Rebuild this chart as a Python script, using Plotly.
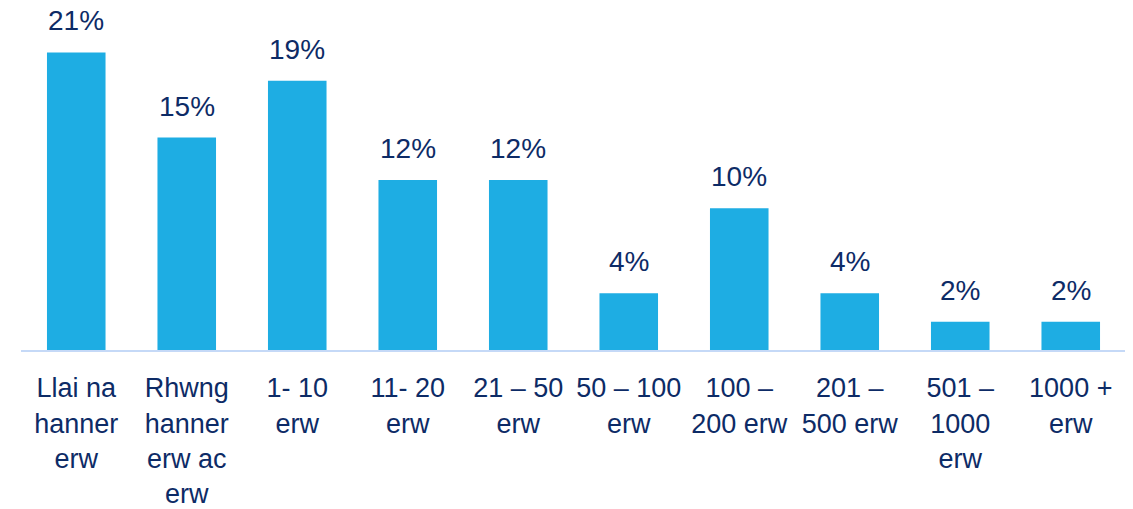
import plotly.graph_objects as go

categories = [
    "Llai na<br>hanner<br>erw",
    "Rhwng<br>hanner<br>erw ac<br>erw",
    "1- 10<br>erw",
    "11- 20<br>erw",
    "21 – 50<br>erw",
    "50 – 100<br>erw",
    "100 –<br>200 erw",
    "201 –<br>500 erw",
    "501 –<br>1000<br>erw",
    "1000 +<br>erw",
]
values = [21, 15, 19, 12, 12, 4, 10, 4, 2, 2]
labels = [f"{v}%" for v in values]

NAVY = "#0D2B66"
BAR = "#1EADE3"
FONT = "Liberation Sans, Arial, sans-serif"

fig = go.Figure(
    go.Bar(
        x=categories,
        y=values,
        marker=dict(color=BAR, line=dict(width=0)),
        hoverinfo="skip",
    )
)

for c, v, t in zip(categories, values, labels):
    fig.add_annotation(
        x=c, y=v, text=t, showarrow=False,
        yanchor="bottom", yshift=14,
        font=dict(color=NAVY, size=28, family=FONT),
    )

fig.update_layout(
    width=1133,
    height=509,
    margin=dict(l=13, r=15, t=2, b=167, autoexpand=False),
    paper_bgcolor="white",
    plot_bgcolor="white",
    bargap=0.47,
    showlegend=False,
    font=dict(family=FONT, color=NAVY, size=27),
)
fig.update_xaxes(
    automargin=False,
    showgrid=False,
    showline=True,
    linecolor="#C5D9F7",
    linewidth=2,
    ticks="",
    tickfont=dict(size=27, color=NAVY, family=FONT),
    ticklabelstandoff=13,
)
fig.update_yaxes(visible=False, automargin=False, range=[0, 24.0], showgrid=False, zeroline=False)

fig.write_html("out.html")
